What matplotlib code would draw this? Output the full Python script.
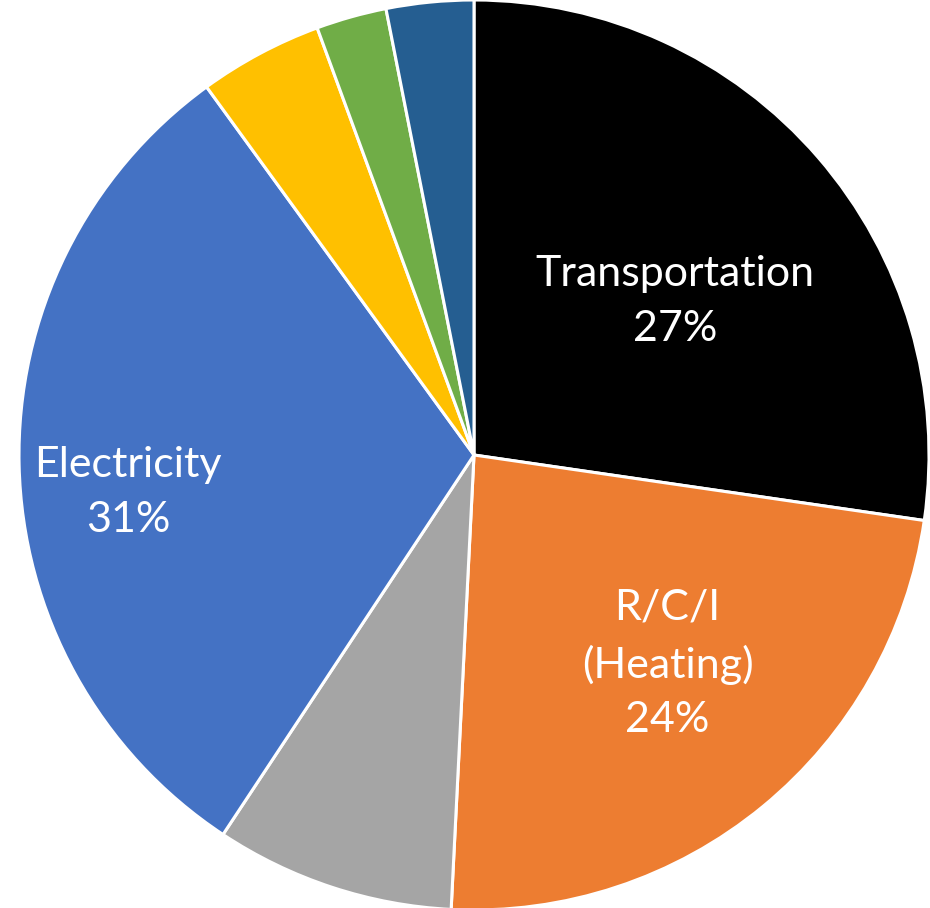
import numpy as np
import matplotlib
matplotlib.use('Agg')
import matplotlib.pyplot as plt

# sector shares, clockwise from 12 o'clock
sectors = ['Transportation', 'R/C/I\n(Heating)', 'Other', 'Electricity', 'Other 2', 'Other 3', 'Other 4']
shares = [27.3, 23.5, 8.5, 30.7, 4.4, 2.5, 3.1]
label_text = ['Transportation\n27%', 'R/C/I\n(Heating)\n24%', '', 'Electricity\n31%', '', '', '']
colors = ['#000000', '#ED7D31', '#A5A5A5', '#4472C4', '#FFC000', '#70AD47', '#255E91']

# radial placement of each label (fraction of radius) and angle tweak in degrees
label_r = [0.556, 0.626, 0, 0.765, 0, 0, 0]
label_dang = [-3.5, 3.4, 0, 4.9, 0, 0, 0]

plt.rcParams['font.family'] = ['Lato', 'DejaVu Sans']

W, H = 930, 908
fig = plt.figure(figsize=(W / 100, H / 100), dpi=100)
cx, cy, R = 474, 908 - 455, 455
ax = fig.add_axes([(cx - R) / W, (cy - R) / H, 2 * R / W, 2 * R / H])

wedges, _ = ax.pie(shares, colors=colors, startangle=90, counterclock=False,
                   radius=1.0, wedgeprops=dict(edgecolor='white', linewidth=2.2))
ax.set_xlim(-1, 1)
ax.set_ylim(-1, 1)
ax.set_aspect('equal')
ax.axis('off')

for w, txt, r, da in zip(wedges, label_text, label_r, label_dang):
    if not txt:
        continue
    mid = np.deg2rad((w.theta1 + w.theta2) / 2 + da)
    ax.text(r * np.cos(mid), r * np.sin(mid), txt, ha='center', va='center',
            color='white', fontsize=31, linespacing=1.53)

fig.savefig('out.png', dpi=100, facecolor='white')
